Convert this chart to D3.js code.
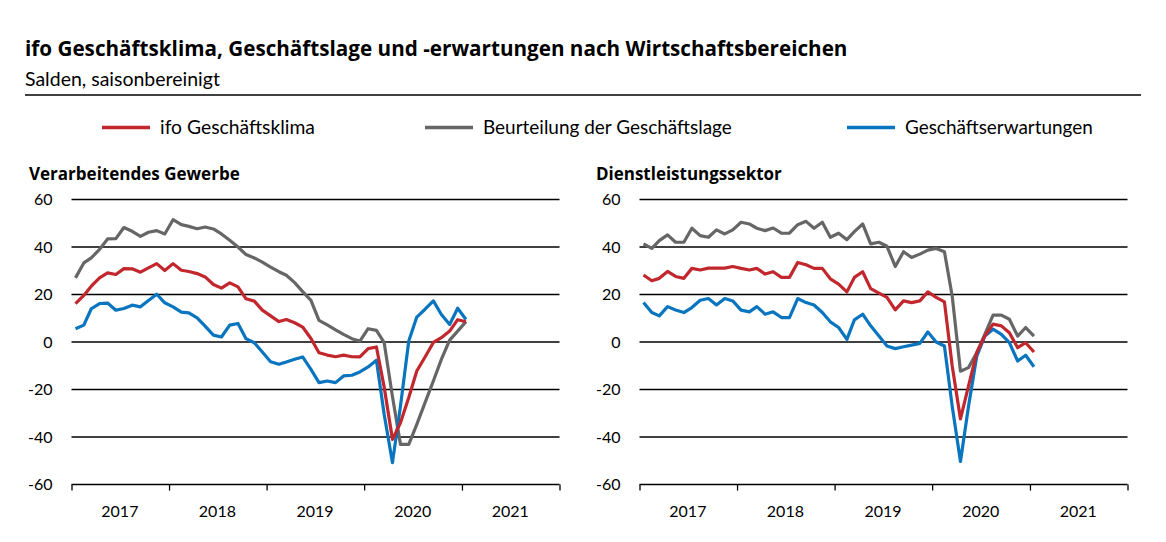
<!DOCTYPE html>
<html>
<head>
<meta charset="utf-8">
<script src="https://cdn.jsdelivr.net/npm/d3@7"></script>
<style>
  body { margin: 0; background: #fff; }
  svg { display: block; font-family: Lato, "Noto Sans", sans-serif; }
  .bold { font-family: "Open Sans", "Noto Sans", sans-serif; font-weight: 700; }
</style>
</head>
<body>
<svg id="chart" width="1166" height="542"></svg>
<script>
// monthly values Jan 2017 - Jan 2021, Salden saisonbereinigt
const months = d3.timeMonth.range(new Date(2017, 0, 1), new Date(2021, 1, 1));
const years = [2017, 2018, 2019, 2020, 2021];
const yTicks = [60, 40, 20, 0, -20, -40, -60];

const seriesNames = ['ifo Geschäftsklima', 'Beurteilung der Geschäftslage', 'Geschäftserwartungen'];

// Verarbeitendes Gewerbe
const vgKlima = [16.2, 19.6, 23.5, 27, 29.1, 28.4, 30.9, 30.8, 29.4, 31.2, 33, 30.1,
  33, 30.2, 29.7, 28.8, 27.4, 24.2, 22.7, 24.9, 23.2, 18.2, 17.2, 13.4,
  11, 8.6, 9.5, 8.1, 6.3, 1.5, -4.5, -5.5, -6.2, -5.5, -6.2, -6.3,
  -2.8, -2.1, -19, -41, -34, -23.4, -12.2, -6.3, -0.2, 1.8, 4.6, 9.4,
  8.5];
const vgLage = [27, 33.3, 35.4, 39, 43.4, 43.5, 48.2, 46.6, 44.5, 46.2, 46.9, 45.5,
  51.5, 49.4, 48.7, 47.7, 48.4, 47.6, 45.5, 42.8, 40, 36.8, 35.4, 33.6,
  31.5, 29.6, 28.1, 25, 21.2, 17.5, 9.1, 7.2, 5.1, 3.2, 1.4, 0.4,
  5.6, 4.9, -0.3, -23, -43.1, -43.1, -34.7, -25.5, -16.4, -7.3, 0.8, 4.6,
  8.6];
const vgErw = [5.6, 7.1, 14, 16.2, 16.4, 13.4, 14.1, 15.5, 14.8, 17.5, 20.1, 16.5,
  14.8, 12.6, 12.3, 10.2, 6.7, 2.9, 2.1, 7.1, 7.8, 1.4, -0.3, -4.2,
  -8.3, -9.4, -8.4, -7.3, -6.3, -11.5, -17.1, -16.4, -17.1, -14.3, -14, -12.6,
  -10.5, -7.7, -30.5, -50.8, -27, 0.4, 10.5, 13.8, 17.3, 11.6, 7.4, 14.2,
  9.5];

// Dienstleistungssektor
const dlKlima = [28.2, 25.8, 26.8, 29.7, 27.6, 26.8, 31, 30.3, 31.1, 31.1, 31.1, 31.8,
  31, 30.3, 31, 28.6, 29.6, 27.2, 27.2, 33.5, 32.5, 31, 31, 26.6,
  24.4, 21.1, 27.2, 29.6, 22.5, 20.6, 18.8, 13.5, 17.3, 16.6, 17.3, 21.1,
  18.8, 16.9, -10, -32.4, -18.6, -4.5, 2.5, 7.5, 6.8, 3.9, -2.4, -0.3,
  -4.2];
const dlLage = [41.3, 39.4, 42.7, 45.1, 42, 42, 47.9, 44.8, 44.1, 47.2, 45.5, 47.2,
  50.4, 49.7, 47.9, 46.9, 48, 45.8, 45.8, 49.4, 50.8, 47.9, 50.4, 44.1,
  45.8, 43.1, 46.5, 49.7, 41.3, 42, 40.3, 31.8, 38, 35.6, 37, 38.7,
  39.4, 38, 19.4, -12.3, -10.8, -4.5, 3.2, 11.3, 11.3, 9.6, 2.5, 6.1,
  2.5];
const dlErw = [16.6, 12.4, 11, 14.9, 13.5, 12.4, 14.5, 17.6, 18.3, 15.6, 18.3, 17.3,
  13.4, 12.7, 14.9, 11.7, 12.7, 10.3, 10.3, 18.3, 16.6, 15.6, 12.4, 8.5,
  6.1, 1.1, 9.3, 11.7, 6.8, 2.5, -1.7, -2.8, -2, -1.3, -0.6, 4.2,
  0, -1.7, -27, -50.3, -27.2, -6, 2.5, 5.4, 3.2, -0.3, -8, -5.6,
  -10.4];

const colors = { klima: '#c1272d', lage: '#666666', erw: '#0a75bf' };

// scale font-size so a text spans the given width
function fitWidth(sel, w) {
  sel.each(function() {
    const t = d3.select(this);
    const len = this.getComputedTextLength();
    t.attr('font-size', +t.attr('font-size') * w / len);
  });
}

const svg = d3.select('#chart');

svg.append('text')
  .attr('class', 'bold')
  .attr('x', 25).attr('y', 56)
  .attr('font-size', 20)
  .text('ifo Geschäftsklima, Geschäftslage und -erwartungen nach Wirtschaftsbereichen')
  .call(fitWidth, 823);

svg.append('text')
  .attr('x', 25).attr('y', 85.5)
  .attr('font-size', 18)
  .text('Salden, saisonbereinigt')
  .call(fitWidth, 195);

svg.append('line')
  .attr('x1', 25).attr('x2', 1141)
  .attr('y1', 95).attr('y2', 95)
  .attr('stroke', '#000').attr('stroke-width', 1.5);

// legend
const legendX = [102, 425, 847];
const legendW = [155, 249, 188];
const legendKeys = ['klima', 'lage', 'erw'];
const legend = svg.selectAll('.legend')
  .data(seriesNames).enter().append('g')
  .attr('class', 'legend')
  .attr('transform', (d, i) => `translate(${legendX[i]},127.5)`);
legend.append('line')
  .attr('x1', 0).attr('x2', 48)
  .attr('stroke', (d, i) => colors[legendKeys[i]])
  .attr('stroke-width', 3.5);
legend.append('text')
  .attr('x', 58).attr('y', 6.8)
  .attr('font-size', 19)
  .text(d => d)
  .each(function(d, i) { fitWidth(d3.select(this), legendW[i]); });

const y = d3.scaleLinear().domain([-60, 60]).range([484.5, 199.5]);

const panels = [
  { title: 'Verarbeitendes Gewerbe', left: 71.5, right: 559.5, titleX: 29, titleW: 211,
    klima: vgKlima, lage: vgLage, erw: vgErw },
  { title: 'Dienstleistungssektor', left: 639.5, right: 1127.5, titleX: 596, titleW: 186,
    klima: dlKlima, lage: dlLage, erw: dlErw },
];

panels.forEach(p => {
  const x = d3.scaleTime()
    .domain([new Date(2017, 0, 1), new Date(2022, 0, 1)])
    .range([p.left, p.right]);
  const g = svg.append('g');

  g.append('text')
    .attr('class', 'bold')
    .attr('x', p.titleX).attr('y', 179.5)
    .attr('font-size', 17)
    .text(p.title)
    .call(fitWidth, p.titleW);

  // gridlines
  g.selectAll('.grid')
    .data(yTicks.filter(t => t > -60)).enter().append('line')
    .attr('x1', p.left).attr('x2', p.right)
    .attr('y1', d => y(d)).attr('y2', d => y(d))
    .attr('stroke', '#000').attr('stroke-width', 1.3);

  g.selectAll('.ylab')
    .data(yTicks).enter().append('text')
    .attr('x', p.left - 19).attr('y', d => y(d))
    .attr('dy', '0.35em')
    .attr('text-anchor', 'end')
    .attr('font-size', 16)
    .text(d => d);

  // x axis with year ticks
  const xAxis = d3.axisBottom(x)
    .tickValues(years.concat(2022).map(yr => new Date(yr, 0, 1)))
    .tickSize(6)
    .tickFormat('');
  const ax = g.append('g')
    .attr('transform', `translate(0,${y(-60)})`)
    .call(xAxis);
  ax.select('.domain').attr('stroke', '#000').attr('stroke-width', 1.5)
    .attr('d', `M${p.left},0H${p.right}`);
  ax.selectAll('.tick line').attr('stroke', '#000').attr('stroke-width', 1.3);

  g.selectAll('.year')
    .data(years).enter().append('text')
    .attr('x', d => x(new Date(d, 6, 1)))
    .attr('y', 517)
    .attr('text-anchor', 'middle')
    .attr('font-size', 16)
    .text(d => d);

  const line = d3.line()
    .x((d, i) => x(d3.timeDay.offset(months[i], 15)))
    .y(d => y(d));

  ['lage', 'erw', 'klima'].forEach(k => {
    g.append('path')
      .datum(p[k])
      .attr('d', line)
      .attr('fill', 'none')
      .attr('stroke', colors[k])
      .attr('stroke-width', 3.2)
      .attr('stroke-linejoin', 'round');
  });
});
</script>
</body>
</html>
